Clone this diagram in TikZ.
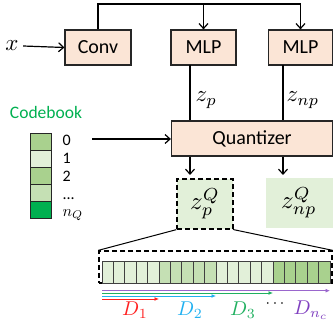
\documentclass[tikz,border=0pt]{standalone}
\usepackage{fontspec}
\setmainfont{Carlito}
\usetikzlibrary{arrows.meta,calc}
\definecolor{peach}{HTML}{FBE5D6}
\definecolor{lt}{HTML}{E2F0D9}
\definecolor{md}{HTML}{C5E0B4}
\definecolor{gr}{HTML}{A9D18E}
\definecolor{dk}{HTML}{00B050}
\definecolor{cred}{HTML}{FF2020}
\definecolor{cblue}{HTML}{20B0F0}
\definecolor{cgreen}{HTML}{20B060}
\definecolor{cpurple}{HTML}{8040C0}
\newcommand{\mscl}[2]{\scalebox{#1}{$#2$}}
\begin{document}
\begin{tikzpicture}[x=1pt,y=-1pt,line width=1.2pt,
  blk/.style={draw=black!85,fill=peach,minimum width=#1,minimum height=35pt,inner sep=0pt,font=\fontsize{20}{22}\selectfont},
  arr/.style={-{Straight Barb[length=5pt,width=9pt]}},
  carr/.style={line width=0.9pt,-{Latex[length=4.5pt,width=4pt]}},
  cbcell/.style={draw=black!85,line width=1pt,minimum width=21pt,minimum height=17pt,inner sep=0pt},
  barcell/.style={draw=black!75,line width=0.9pt,minimum width=11.4pt,minimum height=22pt,inner sep=0pt},
  dsh/.style={line width=1.3pt,dash pattern=on 5pt off 3pt},
  lbl/.style={inner sep=0pt},
  cblbl/.style={anchor=base west,font=\fontsize{16}{18}\selectfont,inner sep=0pt,text height=10pt,text depth=0pt}]
\useasboundingbox (0,0) rectangle (333,329);

% main blocks
\node[blk=66pt] (conv) at (98,47.5) {Conv};
\node[blk=65pt] (mlp1) at (203.5,47.5) {MLP};
\node[blk=64pt] (mlp2) at (300.5,47.5) {MLP};
\node[blk=161pt] (quant) at (252,138.5) {Quantizer};

% input
\node[lbl] (x) at (12,46) {\mscl{2.3}{x}};
\draw[arr] ([xshift=4pt]x.east) -- (conv.west);

% top connector
\coordinate (top) at (98,4);
\draw[arr] (conv.north) -- (top) -| (mlp2.north);
\draw[arr] (mlp1.north |- top) -- (mlp1.north);

% MLP to quantizer
\coordinate (pl) at (190,65);
\coordinate (npl) at (283,65);
\draw (pl) -- (pl |- quant.north);
\draw (npl) -- (npl |- quant.north);
\node[lbl,anchor=west] (zp) at (195,100) {\mscl{2.3}{z_p}};
\node[lbl,anchor=west] (znp) at (286,100) {\mscl{2.3}{z_{np}}};

% quantized outputs
\node[draw=black,dsh,fill=lt,minimum width=56pt,minimum height=50pt,inner sep=0pt] (zpq) at (205,204) {\mscl{2.5}{z_p^Q}};
\node[fill=lt,minimum width=67pt,minimum height=50pt,inner sep=0pt] (znpq) at (299,203) {\mscl{2.5}{z_{np}^Q}};
\draw[arr] (pl |- quant.south) -- (190,175);
\draw[arr] (npl |- quant.south) -- (283,175);

% codebook
\node[text=dk,font=\fontsize{17.5}{19}\selectfont,inner sep=0pt] (cbt) at (46,112) {Codebook};
\foreach \c [count=\i from 0] in {gr,lt,gr,md,dk}{
  \node[cbcell,fill=\c] (c\i) at (41,142.5+17*\i) {};
}
\node[cblbl] (l0) at (62,146) {0};
\node[cblbl] (l1) at (62,164) {1};
\node[cblbl] (l2) at (62,182) {2};
\node[cblbl,text height=2pt] (l3) at (62,200) {...};
\node[lbl,anchor=west] (l4) at (62,215) {\mscl{1.6}{n_Q}};
\coordinate (cbo) at (92,139);
\draw[arr] (cbo) -- (cbo -| quant.west);

% bar
\node[draw=black,dsh,minimum width=233pt,minimum height=32pt,inner sep=0pt] (bar) at (215.5,267) {};
\foreach \c [count=\i from 0] in {lt,lt,lt,lt,lt,md,md,md,md,md,lt,lt,lt,lt,lt,gr,gr,gr,gr,gr}{
  \node[barcell,fill=\c] (b\i) at (107.7+11.4*\i,272) {};
}
\draw[line width=1pt] (zpq.south west) -- (bar.north west);
\draw[line width=1pt] (zpq.south east) -- (bar.north east);

% range arrows
\coordinate (s1) at (102,290.7); \coordinate (e1) at (330,290.7);
\coordinate (s2) at (102,293);   \coordinate (e2) at (273,293);
\coordinate (s3) at (102,296);   \coordinate (e3) at (216,296);
\coordinate (s4) at (102,299);   \coordinate (e4) at (159,299);
\draw[carr,cpurple!80] (s1) -- (e1);
\draw[carr,cgreen] (s2) -- (e2);
\draw[carr,cblue] (s3) -- (e3);
\draw[carr,cred] (s4) -- (e4);
\node[lbl,text=cred] (d1) at (135,310) {\mscl{2}{D_1}};
\node[lbl,text=cblue] (d2) at (190,310) {\mscl{2}{D_2}};
\node[lbl,text=cgreen] (d3) at (243,310) {\mscl{2}{D_3}};
\node[lbl] (dd) at (275,304) {\mscl{1.6}{\cdots}};
\node[lbl,text=cpurple] (dn) at (311,310) {\mscl{2}{D_{n_c}}};
\end{tikzpicture}
\end{document}
